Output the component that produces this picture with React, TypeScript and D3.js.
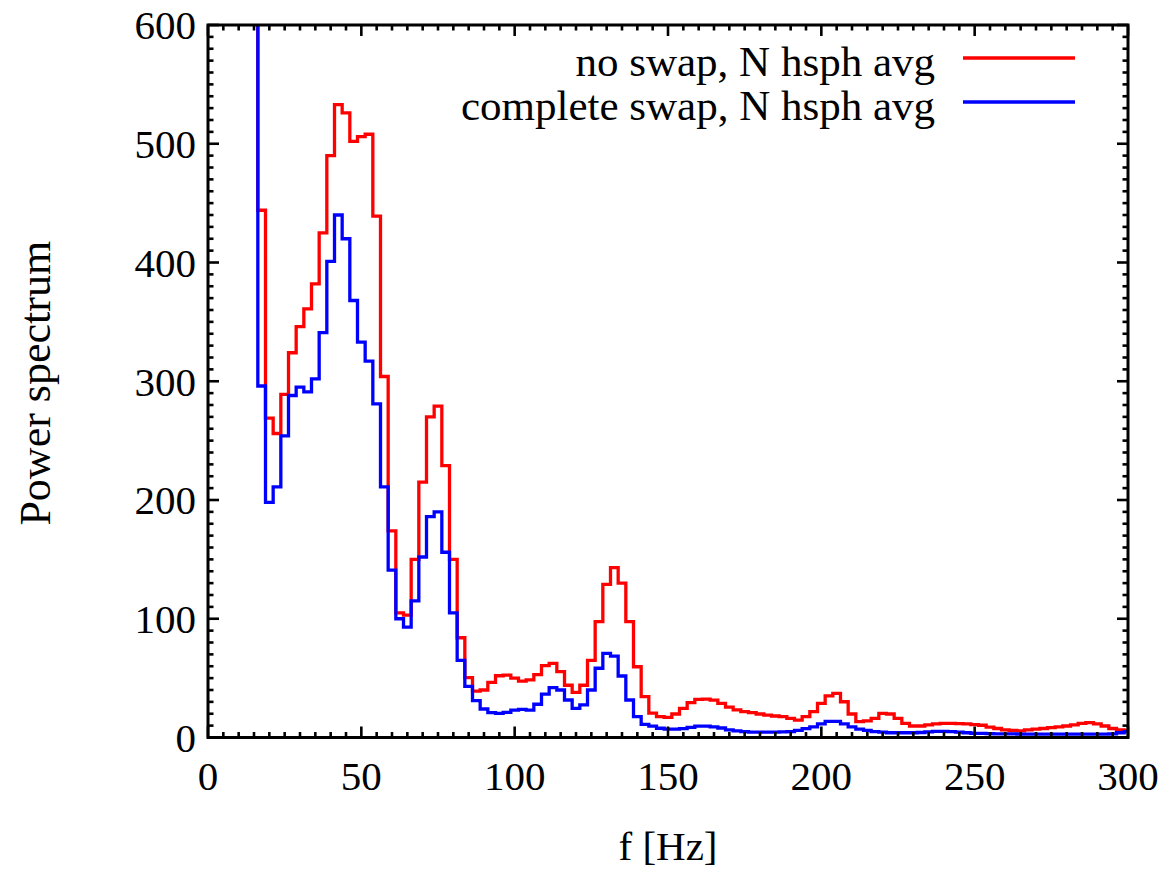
import React from "react";
import * as d3 from "d3";

// bin centres (Hz), 2.5 Hz spacing
const freqs: number[] = d3.range(0, 115).map((i) => 15 + 2.5 * i);

const noSwap: number[] = [
  900, 444, 269, 256, 289, 324, 346, 361, 382, 425,
  490, 533, 526, 502, 506, 508, 439, 304, 174, 105,
  103, 150, 215, 270, 279, 229, 150, 84, 50.5, 39,
  40, 46.5, 52, 52.5, 50, 47.5, 48.5, 53, 60.5, 62.5,
  55.5, 44, 38, 44, 65, 97.5, 129, 143, 130, 97.5,
  59.6, 34.4, 20.5, 17.5, 17, 19.8, 24.6, 29.3, 32.1, 32.4,
  31.5, 28.8, 25.5, 23.2, 21.8, 20.9, 19.8, 18.9, 18.1, 17.5,
  16.1, 14.7, 17.5, 21.8, 28.8, 35, 37.2, 30.1, 19.8, 13.4,
  14, 16.1, 20.3, 19.8, 16.1, 11.9, 9.7, 9.7, 10.6, 11.4,
  11.9, 11.9, 11.7, 11.4, 10.9, 10.3, 8.7, 7.6, 6.5, 5.9,
  5.6, 6.5, 7.0, 7.6, 8.4, 9, 9.7, 10.6, 11.9, 12.5,
  11.4, 9.7, 7.6, 6.5, 5.9,
];

const completeSwap: number[] = [
  900, 296, 198, 211, 254, 288, 295, 291, 302, 341,
  401, 440, 420, 368, 333, 317, 281, 211, 141, 100,
  93, 115, 152, 186, 190, 156, 105, 65, 43, 31,
  24, 21, 20.4, 21.2, 23, 23.7, 23, 28, 36.6, 42,
  40, 31.6, 24.6, 27.4, 40, 58.3, 70.9, 68.6, 51.8, 31.6,
  17.5, 11, 9.5, 7.8, 7, 7, 7.5, 8.5, 9.5, 9.5,
  9, 8, 6.5, 5.5, 5, 4.5, 4.5, 4.5, 4.5, 4.8,
  5, 6, 7.5, 9, 11.5, 13.5, 13.5, 11.5, 9, 7,
  6, 5, 4.5, 4, 4, 4, 4, 4.2, 4.8, 5.2,
  5.2, 5, 4.5, 4, 3.5, 3.5, 3.2, 3, 3, 3,
  2.8, 2.8, 2.8, 2.8, 2.8, 2.8, 2.8, 2.8, 2.8, 2.8,
  2.8, 2.8, 3, 4, 5,
];

const xTicks: number[] = [0, 50, 100, 150, 200, 250, 300];
const yTicks: number[] = [0, 100, 200, 300, 400, 500, 600];
const seriesNames: string[] = ["no swap, N hsph avg", "complete swap, N hsph avg"];
const seriesColors: string[] = ["#ff0000", "#0000ff"];

const W = 1170;
const H = 873;
const L = 208, R = 1128, T = 25, B = 737.5;
const FONT = "'Liberation Serif', 'Times New Roman', serif";

export default function App() {
  const x = d3.scaleLinear().domain([0, 300]).range([L, R]);
  const y = d3.scaleLinear().domain([0, 600]).range([B, T]);

  const line = d3
    .line<[number, number]>()
    .x((d) => x(d[0]))
    .y((d) => y(d[1]))
    .curve(d3.curveStep);

  const series = [noSwap, completeSwap].map((vals) =>
    line(freqs.map((f, i) => [f, vals[i]] as [number, number]))
  );

  const minorX = d3.range(0, 301, 5).filter((v) => v % 50 !== 0);
  const minorY = d3.range(0, 601, 10).filter((v) => v % 100 !== 0);
  const majLen = 11;
  const minLen = 5.5;

  return (
    <svg
      width={W}
      height={H}
      style={{ position: "absolute", left: 0, top: 0, background: "#fff" }}
      fontFamily={FONT}
    >
      <rect x={0} y={0} width={W} height={H} fill="#fff" />
      <defs>
        <clipPath id="plotclip">
          <rect x={L} y={T} width={R - L} height={B - T} />
        </clipPath>
      </defs>
      <g clipPath="url(#plotclip)">
        {series.map((d, i) => (
          <path key={i} d={d || ""} fill="none" stroke={seriesColors[i]} strokeWidth={3.3} strokeLinejoin="miter" />
        ))}
      </g>
      {/* ticks */}
      <g stroke="#000" strokeWidth={2.6}>
        {minorX.map((v) => (
          <g key={"mx" + v}>
            <line x1={x(v)} x2={x(v)} y1={B} y2={B - minLen} />
            <line x1={x(v)} x2={x(v)} y1={T} y2={T + minLen} />
          </g>
        ))}
        {xTicks.map((v) => (
          <g key={"Mx" + v}>
            <line x1={x(v)} x2={x(v)} y1={B} y2={B - majLen} />
            <line x1={x(v)} x2={x(v)} y1={T} y2={T + majLen} />
          </g>
        ))}
        {minorY.map((v) => (
          <g key={"my" + v}>
            <line x1={L} x2={L + minLen} y1={y(v)} y2={y(v)} />
            <line x1={R} x2={R - minLen} y1={y(v)} y2={y(v)} />
          </g>
        ))}
        {yTicks.map((v) => (
          <g key={"My" + v}>
            <line x1={L} x2={L + majLen} y1={y(v)} y2={y(v)} />
            <line x1={R} x2={R - majLen} y1={y(v)} y2={y(v)} />
          </g>
        ))}
      </g>
      <rect x={L} y={T} width={R - L} height={B - T} fill="none" stroke="#000" strokeWidth={3} />
      {/* tick labels */}
      <g fontSize={41} fill="#000">
        {xTicks.map((v) => (
          <text key={"tx" + v} x={x(v)} y={790} textAnchor="middle">
            {v}
          </text>
        ))}
        {yTicks.map((v) => (
          <text key={"ty" + v} x={196} y={y(v)} dy="0.35em" textAnchor="end">
            {v}
          </text>
        ))}
      </g>
      <text x={(L + R) / 2} y={860} textAnchor="middle" fontSize={41}>
        f [Hz]
      </text>
      <text
        transform={`translate(50, ${(T + B) / 2 + 2}) rotate(-90)`}
        textAnchor="middle"
        fontSize={44}
      >
        Power spectrum
      </text>
      {/* legend */}
      {seriesNames.map((name, i) => (
        <g key={name}>
          <text x={935} y={61 + i * 44} dy="0.35em" textAnchor="end" fontSize={43}>
            {name}
          </text>
          <line x1={963} x2={1075} y1={58 + i * 44} y2={58 + i * 44} stroke={seriesColors[i]} strokeWidth={3.3} />
        </g>
      ))}
    </svg>
  );
}
